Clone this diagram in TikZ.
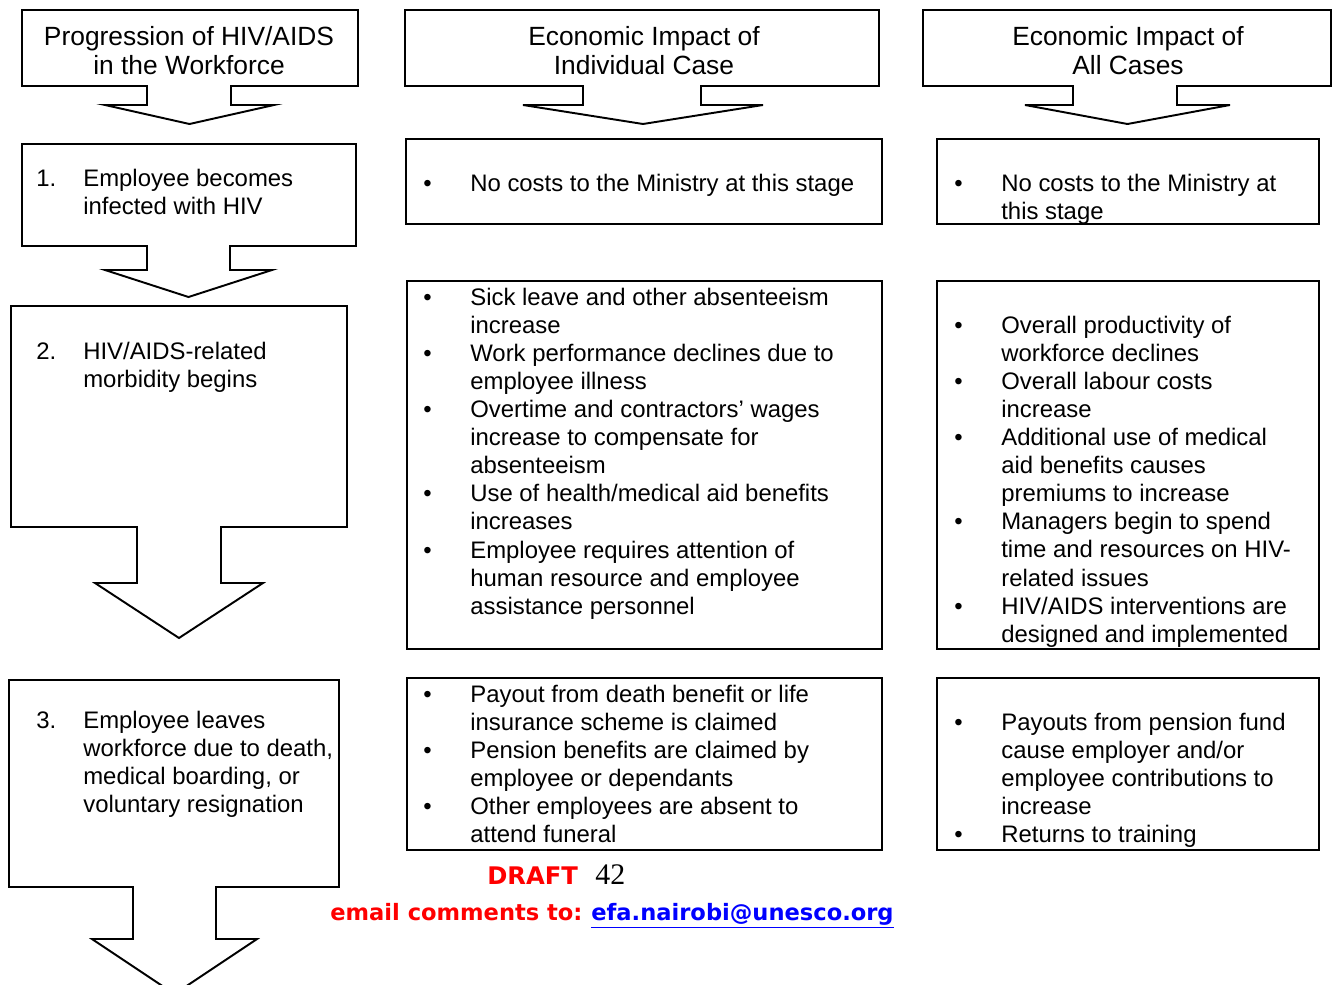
\documentclass[tikz,border=0pt]{standalone}
\usepackage{fontspec}
\setmainfont{Liberation Sans}
\newfontfamily\seriffont{Liberation Serif}
\newfontfamily\draftfont{DejaVu Sans}
\begin{document}
\begin{tikzpicture}[x=0.02cm,y=-0.02cm]
\tikzset{
  shape line/.style={draw=black,line width=1.1pt,line join=miter,fill=white},
  boxline/.style={draw=black,line width=1.2pt},
  bodytext/.style={inner sep=0pt,anchor=base west,font=\fontsize{13.6}{16}\selectfont},
  headtext/.style={inner sep=0pt,anchor=base,font=\fontsize{15}{17}\selectfont},
  foottext/.style={inner sep=0pt,anchor=base west,font=\draftfont\bfseries\fontsize{13.8}{16}\selectfont},
  mailtext/.style={inner sep=0pt,anchor=base west,font=\draftfont\bfseries\fontsize{12.85}{16}\selectfont},
}
\newcommand\tb[1]{\begin{tabular}[t]{@{}p{0.94cm}@{}l@{}}#1\end{tabular}}
\newcommand\hc[1]{\begin{tabular}[t]{@{}c@{}}#1\end{tabular}}
\clip (0,0) rectangle (1332,984);
\fill[white] (0,0) rectangle (1332,984);
% callout shapes: L,T,R,B, shaft L/R, shaft bottom, wing L/R
\newcommand\callout[9]{%
  \path[shape line] (#1,#2) -- (#3,#2) -- (#3,#4) -- (#6,#4) -- (#6,#7) -- (#9,#7)
   -- ({(#8+#9)/2},\tipy) -- (#8,#7) -- (#5,#7) -- (#5,#4) -- (#1,#4) -- cycle;}
% headers
\def\tipy{124}\callout{22}{10}{358}{86}{147}{231}{105}{105}{274}
\def\tipy{124}\callout{405}{10}{879}{86}{583}{701}{105}{523}{763}
\def\tipy{124}\callout{923}{10}{1331}{86}{1073}{1177}{105}{1025}{1230}
% left column stages
\def\tipy{297}\callout{22}{144}{356}{246}{147}{230}{270}{105}{272}
\def\tipy{638}\callout{11}{306}{347}{527}{137}{221}{583}{95}{263}
\def\tipy{994}\callout{9}{680}{339}{887}{133}{216}{939}{92}{257}

\node[headtext] (h1) at (189,45) {\hc{Progression of HIV/AIDS\\in the Workforce}};
\node[headtext] (h2) at (644,45) {\hc{Economic Impact of\\Individual Case}};
\node[headtext] (h3) at (1128,45) {\hc{Economic Impact of\\All Cases}};

\node[bodytext] (s1) at (36,186) {\tb{1. & Employee becomes\\ & infected with HIV}};
\node[bodytext] (s2) at (36,359) {\tb{2. & HIV/AIDS-related\\ & morbidity begins}};
\node[bodytext] (s3) at (36,728) {\tb{3. & Employee leaves\\ & workforce due to death,\\ & medical boarding, or\\ & voluntary resignation}};

% middle column
\draw[boxline] (406,139) rectangle (882,224);
\draw[boxline] (407,281) rectangle (882,649);
\draw[boxline] (407,678) rectangle (882,850);
% right column
\draw[boxline] (937,139) rectangle (1319,224);
\draw[boxline] (937,281) rectangle (1319,649);
\draw[boxline] (937,678) rectangle (1319,850);

\node[bodytext] (m1) at (423,191) {\tb{\textbullet & No costs to the Ministry at this stage}};
\node[bodytext] (m2) at (423,305) {\tb{\textbullet & Sick leave and other absenteeism\\ & increase\\
\textbullet & Work performance declines due to\\ & employee illness\\
\textbullet & Overtime and contractors’ wages\\ & increase to compensate for\\ & absenteeism\\
\textbullet & Use of health/medical aid benefits\\ & increases\\
\textbullet & Employee requires attention of\\ & human resource and employee\\ & assistance personnel}};
\node[bodytext] (m3) at (423,702) {\tb{\textbullet & Payout from death benefit or life\\ & insurance scheme is claimed\\
\textbullet & Pension benefits are claimed by\\ & employee or dependants\\
\textbullet & Other employees are absent to\\ & attend funeral}};

\node[bodytext] (r1) at (954,191) {\tb{\textbullet & No costs to the Ministry at\\ & this stage}};
\node[bodytext] (r2) at (954,333) {\tb{\textbullet & Overall productivity of\\ & workforce declines\\
\textbullet & Overall labour costs\\ & increase\\
\textbullet & Additional use of medical\\ & aid benefits causes\\ & premiums to increase\\
\textbullet & Managers begin to spend\\ & time and resources on HIV-\\ & related issues\\
\textbullet & HIV/AIDS interventions are\\ & designed and implemented}};
\node[bodytext] (r3) at (954,730) {\tb{\textbullet & Payouts from pension fund\\ & cause employer and/or\\ & employee contributions to\\ & increase\\
\textbullet & Returns to training}};

% footer
\node[foottext,text=red] (draft) at (487,884) {DRAFT};
\node[inner sep=0pt,anchor=base west,font=\seriffont\fontsize{17}{19}\selectfont] (pg) at (595,884) {42};
\node[mailtext,text=red] (mail) at (330,920) {email comments to:};
\node[mailtext,text=blue] (addr) at (591,920) {\underline{efa.nairobi@unesco.org}};
\end{tikzpicture}
\end{document}
